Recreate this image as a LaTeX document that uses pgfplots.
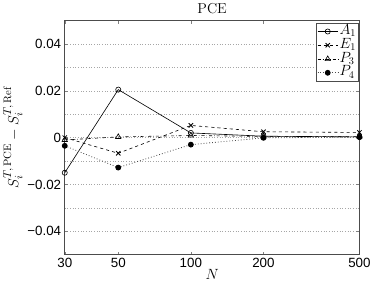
\documentclass[border=0pt]{standalone}
\usepackage{fontspec}
\setsansfont{Liberation Sans}
\usepackage{pgfplots}
\pgfplotsset{compat=1.18}
\begin{document}
\begin{tikzpicture}
\begin{axis}[
  scale only axis,
  width=287pt, height=228pt,
  xmode=log,
  xmin=30, xmax=500,
  ymin=-0.05, ymax=0.05,
  scaled y ticks=false,
  xtick={30,50,100,200,500},
  xticklabels={30,50,100,200,500},
  minor xtick={},
  ytick={-0.04,-0.02,0,0.02,0.04},
  yticklabels={−0.04,−0.02,0,0.02,0.04},
  minor ytick={-0.03,-0.01,0.01,0.03},
  ymajorgrids, yminorgrids,
  major grid style={dash pattern=on 0.6pt off 2pt, gray!70, line width=0.5pt},
  minor grid style={dash pattern=on 0.6pt off 2pt, gray!70, line width=0.5pt},
  minor tick length=0pt,
  major tick length=3pt,
  tick align=inside,
  tick style={gray, line width=0.4pt},
  axis line style={black!70, line width=0.6pt},
  ticklabel style={font=\fontsize{13}{13}\selectfont\sffamily},
  /pgf/number format/assume math mode=true,
  title={PCE},
  title style={font=\fontsize{14}{14}\selectfont, yshift=-3pt},
  xlabel={$N$},
  xlabel style={font=\fontsize{14}{14}\selectfont, yshift=5pt},
  ylabel={$S_i^{T,\,\mathrm{PCE}} - S_i^{T,\,\mathrm{Ref}}$},
  ylabel style={font=\fontsize{15}{15}\selectfont, yshift=-2pt},
  legend style={at={(0.997,0.99)}, anchor=north east, draw=black!70, font=\fontsize{14}{14}\selectfont, inner sep=1pt, row sep=-1pt, legend cell align=left,
    nodes={inner sep=1.2pt, text height=9pt, text depth=3pt}},
  legend image code/.code={
    \draw[mark repeat=2,mark phase=2,#1] plot coordinates {(0cm,0cm) (0.35cm,0cm) (0.7cm,0cm)};
  },
]
\addplot[black, solid, line width=0.6pt, mark=o, mark size=2.5pt, mark options={solid}] coordinates {
  (30,-0.015) (50,0.0205) (100,0.002) (200,0.0006) (500,0.0003)};
\addlegendentry{$A_1$}
\addplot[black, dashed, line width=0.6pt, mark=x, mark size=3pt, mark options={solid, line width=0.8pt}] coordinates {
  (30,0.0) (50,-0.0067) (100,0.0052) (200,0.0025) (500,0.0022)};
\addlegendentry{$E_1$}
\addplot[black, dash dot, line width=0.6pt, mark=triangle, mark size=3pt, mark options={solid}] coordinates {
  (30,-0.001) (50,0.0003) (100,0.0009) (200,0.0005) (500,0.0005)};
\addlegendentry{$P_3$}
\addplot[black!70, dotted, line width=0.8pt, mark=*, mark size=2.4pt, mark options={solid, fill=black, draw=black}] coordinates {
  (30,-0.0035) (50,-0.0128) (100,-0.003) (200,-0.0001) (500,0.0002)};
\addlegendentry{$P_4$}
\end{axis}
\end{tikzpicture}
\end{document}
